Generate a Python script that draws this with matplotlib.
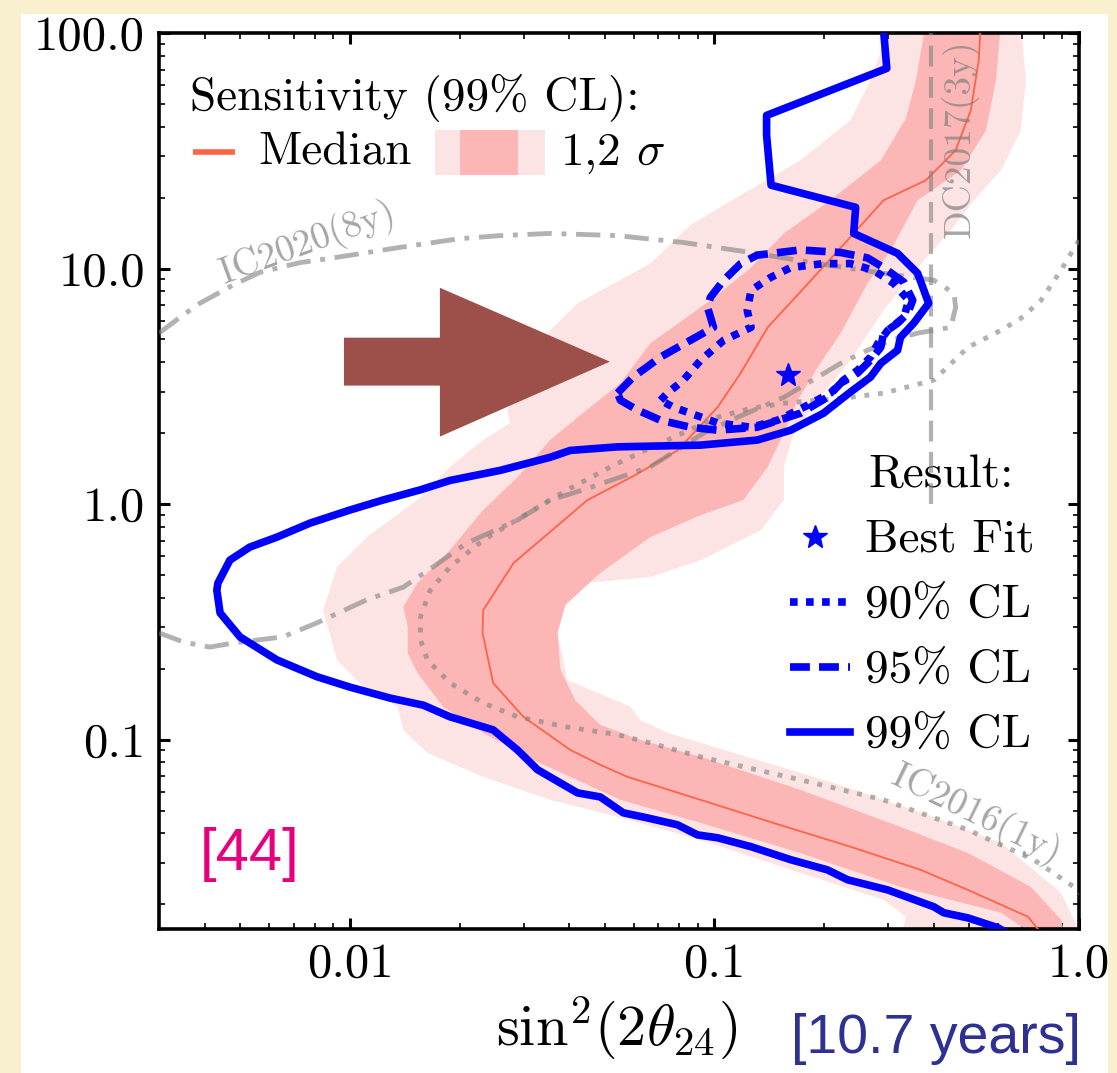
import numpy as np
import matplotlib
matplotlib.use("Agg")
import matplotlib.pyplot as plt
from matplotlib.patches import Polygon, Rectangle
from matplotlib.ticker import FixedLocator, FixedFormatter, LogLocator, NullFormatter

plt.rcParams['font.family'] = 'serif'
plt.rcParams['font.serif'] = ['cmr10']
plt.rcParams['mathtext.fontset'] = 'cm'
plt.rcParams['axes.formatter.use_mathtext'] = True
plt.rcParams['axes.unicode_minus'] = False

# ---- sensitivity bands (outline: left/lower edge downwards, then right/upper edge upwards)
sig2_x = [0.305, 0.268, 0.236, 0.172, 0.118, 0.0859, 0.0667, 0.0421, 0.0354, 0.0270, 0.0275,
          0.0232, 0.0188, 0.0153, 0.0113, 0.00921, 0.00843, 0.00921, 0.0109, 0.0135, 0.0140,
          0.0163, 0.0232, 0.0354, 0.0542, 0.0916, 0.172, 0.291, 0.335, 0.324, 1.02,
          0.969, 0.893, 0.611, 0.400, 0.212, 0.113, 0.0743, 0.0626, 0.0588, 0.0395, 0.0371,
          0.0378, 0.0437, 0.0667, 0.0916, 0.134, 0.155, 0.155, 0.165, 0.192, 0.236, 0.291,
          0.361, 0.445, 0.515, 0.611, 0.693, 0.715, 0.693]
sig2_y = [110, 62.9, 42.6, 28.8, 20.5, 15.3, 10.5, 7.12, 5.47, 2.51, 2.21,
          1.87, 1.44, 1.04, 0.739, 0.541, 0.355, 0.218, 0.167, 0.138, 0.110,
          0.0878, 0.0695, 0.0555, 0.0470, 0.0375, 0.0272, 0.0209, 0.0177, 0.0141, 0.0141,
          0.0172, 0.0224, 0.0364, 0.0470, 0.0655, 0.0878, 0.107, 0.121, 0.138, 0.179, 0.284,
          0.355, 0.462, 0.490, 0.578, 0.776, 1.04, 1.44, 2.00, 2.76, 4.08, 6.65,
          10.1, 14.5, 19.5, 26.1, 38.6, 62.9, 110]

sig1_x = [0.380, 0.357, 0.335, 0.286, 0.208, 0.155, 0.126, 0.0975, 0.0667, 0.0552, 0.0429,
          0.0354, 0.0288, 0.0232, 0.0188, 0.0153, 0.0140, 0.0144, 0.0144, 0.0153, 0.0180,
          0.0232, 0.0318, 0.0437, 0.0552, 0.0916, 0.172, 0.324, 0.611, 0.787, 0.921,
          0.893, 0.738, 0.496, 0.324, 0.172, 0.0916, 0.0626, 0.0486, 0.0415, 0.0378, 0.0371,
          0.0390, 0.0486, 0.0667, 0.0916, 0.120, 0.140, 0.155, 0.169, 0.192, 0.222, 0.263,
          0.305, 0.361, 0.474, 0.556, 0.592, 0.611]
sig1_y = [110, 62.9, 43.4, 28.8, 19.5, 14.1, 10.1, 7.33, 4.82, 3.26, 2.39,
          1.87, 1.30, 0.944, 0.638, 0.462, 0.366, 0.301, 0.233, 0.192, 0.138,
          0.107, 0.0820, 0.0655, 0.0555, 0.0443, 0.0330, 0.0237, 0.0184, 0.0141, 0.0141,
          0.0172, 0.0237, 0.0330, 0.0426, 0.0612, 0.0845, 0.0997, 0.1155, 0.147, 0.198, 0.284,
          0.373, 0.510, 0.724, 0.898, 1.04, 1.44, 2.00, 2.76, 3.81, 5.32, 8.66,
          12.0, 19.5, 26.1, 38.6, 62.9, 110]

med_x = [0.538, 0.531, 0.505, 0.459, 0.380, 0.291, 0.236, 0.184, 0.140, 0.118, 0.102,
         0.0791, 0.0607, 0.0448, 0.0281, 0.0232, 0.0231, 0.0247, 0.0299, 0.0402, 0.0486,
         0.0577, 0.0916, 0.145, 0.236, 0.368, 0.496, 0.725, 0.771, 0.812]
med_y = [110, 76.5, 47.0, 31.8, 23.7, 19.5, 13.6, 8.92, 5.63, 3.60, 2.58,
         1.69, 1.33, 1.04, 0.562, 0.355, 0.284, 0.174, 0.125, 0.0904, 0.0782,
         0.0695, 0.0555, 0.0443, 0.0351, 0.0280, 0.0230, 0.0177, 0.0157, 0.0141]

# ---- previous results
ic2020_x = [0.00299, 0.00348, 0.00387, 0.00477, 0.00566, 0.00729, 0.00898, 0.0137, 0.0200,
            0.0258, 0.0354, 0.0542, 0.0822, 0.126, 0.192, 0.291, 0.400, 0.454, 0.459, 0.445,
            0.361, 0.305, 0.263, 0.222, 0.180, 0.155, 0.116, 0.0933, 0.0667, 0.0437, 0.0354,
            0.0288, 0.0209, 0.0169, 0.0140, 0.0111, 0.00811, 0.00654, 0.00477, 0.00412,
            0.00348, 0.00299]
ic2020_y = [5.32, 6.34, 7.12, 8.50, 9.64, 10.6, 11.1, 12.3, 13.4,
            13.8, 14.1, 13.8, 12.9, 11.7, 10.5, 9.55, 8.92, 7.86, 6.85, 5.63,
            5.32, 4.96, 4.50, 3.96, 3.26, 2.84, 2.34, 2.00, 1.44, 1.15, 1.04,
            0.855, 0.683, 0.541, 0.444, 0.392, 0.313, 0.273, 0.257, 0.247,
            0.260, 0.284]

ic2016_x = [1.0, 0.893, 0.787, 0.693, 0.611, 0.496, 0.400, 0.291, 0.236, 0.155, 0.126,
            0.102, 0.0743, 0.0542, 0.0395, 0.0318, 0.0232, 0.0188, 0.0166, 0.0156, 0.0156,
            0.0163, 0.0188, 0.0232, 0.0288, 0.0395, 0.0542, 0.0667, 0.0916, 0.172, 0.291,
            0.496, 0.752, 0.969, 1.01]
ic2016_y = [13.2, 9.84, 7.33, 6.15, 5.47, 4.63, 3.36, 2.96, 2.84, 2.68, 2.55,
            2.34, 1.87, 1.49, 1.15, 0.944, 0.703, 0.541, 0.431, 0.332, 0.265,
            0.218, 0.174, 0.143, 0.125, 0.113, 0.105, 0.0968, 0.0845, 0.0675, 0.0555,
            0.0414, 0.0309, 0.0237, 0.0222]

dc2017_x = 0.392
dc2017_y = [1.0, 100.0]

# ---- this result
cl99_x = [0.290, 0.297, 0.139, 0.139, 0.143, 0.244, 0.241, 0.318, 0.361, 0.387, 0.352,
          0.324, 0.318, 0.286, 0.268, 0.236, 0.199, 0.162, 0.131, 0.0916, 0.0542, 0.0402,
          0.0354, 0.0258, 0.0188, 0.0156, 0.0123, 0.0100, 0.00776, 0.00630, 0.00531, 0.00468,
          0.00434, 0.00431, 0.00440, 0.00499, 0.00630, 0.00811, 0.0100, 0.0129, 0.0159,
          0.0188, 0.0247, 0.0288, 0.0327, 0.0421, 0.0486, 0.0562, 0.0655, 0.0791, 0.0898,
          0.102, 0.126, 0.162, 0.204, 0.232, 0.299, 0.400, 0.426, 0.496, 0.599, 0.650]
cl99_y = [110, 70.8, 44.7, 36.8, 22.6, 18.2, 14.1, 11.6, 9.55, 7.12, 5.86,
          5.11, 4.50, 3.96, 3.46, 2.99, 2.43, 2.06, 1.87, 1.78, 1.75, 1.69,
          1.58, 1.39, 1.26, 1.15, 1.04, 0.944, 0.830, 0.724, 0.657, 0.578,
          0.462, 0.431, 0.345, 0.273, 0.218, 0.185, 0.167, 0.150, 0.140,
          0.125, 0.110, 0.0904, 0.0745, 0.0594, 0.0571, 0.0489, 0.0465, 0.0435, 0.0394,
          0.0383, 0.0351, 0.0309, 0.0280, 0.0254, 0.0230, 0.0195, 0.0184, 0.0175, 0.0159, 0.0148]

cl95_x = [0.0542, 0.0598, 0.0711, 0.0859, 0.0994, 0.0957, 0.0975, 0.106, 0.118, 0.131, 0.172,
          0.222, 0.263, 0.291, 0.331, 0.350, 0.339, 0.318, 0.291, 0.286, 0.268, 0.247,
          0.222, 0.204, 0.172, 0.131, 0.102, 0.0859, 0.0711, 0.0614, 0.0552, 0.0542]
cl95_y = [2.96, 3.46, 4.21, 4.96, 5.63, 6.85, 7.56, 8.92, 10.5, 11.4, 12.0,
          11.7, 11.1, 10.1, 8.75, 7.33, 6.46, 5.86, 5.32, 4.63, 4.08, 3.60,
          3.26, 2.84, 2.43, 2.12, 2.06, 2.12, 2.27, 2.51, 2.76, 2.96]

cl90_x = [0.0711, 0.0743, 0.0822, 0.0916, 0.106, 0.126, 0.123, 0.126, 0.143, 0.162, 0.199,
          0.236, 0.273, 0.310, 0.341, 0.331, 0.299, 0.281, 0.268, 0.247, 0.226, 0.208,
          0.176, 0.149, 0.126, 0.102, 0.0859, 0.0771, 0.0711]
cl90_y = [2.76, 2.96, 3.36, 4.08, 4.96, 5.63, 6.65, 8.09, 9.19, 10.1, 10.5,
          10.5, 9.84, 8.66, 7.33, 6.21, 5.47, 4.82, 4.21, 3.70, 3.36, 2.96,
          2.58, 2.27, 2.12, 2.21, 2.43, 2.58, 2.76]

best_fit = (0.159, 3.53)

xtick_vals = [0.01, 0.1, 1.0]
xtick_labels = ['0.01', '0.1', '1.0']
ytick_vals = [0.1, 1.0, 10.0, 100.0]
ytick_labels = ['0.1', '1.0', '10.0', '100.0']

BLUE = '#0000ff'
LIGHT = '#fde4e4'
DARK = '#fcb6b6'
MED = 'tomato'

fig = plt.figure(figsize=(11.17, 10.73), dpi=100)
fig.patch.set_facecolor('#f9f0cf')
fig.add_artist(Rectangle((0.0188, 0.0), 0.9731, 0.987, transform=fig.transFigure,
                         facecolor='white', edgecolor='none', zorder=-10))
ax = fig.add_axes([0.1423, 0.1342, 0.8236, 0.8350])
ax.set_xscale('log')
ax.set_yscale('log')

ax.fill(sig2_x, sig2_y, color=LIGHT, lw=0, zorder=1)
ax.fill(sig1_x, sig1_y, color=DARK, lw=0, zorder=2)
ax.plot(med_x, med_y, color=MED, lw=1.3, zorder=3)

ax.plot(ic2020_x, ic2020_y, color='gray', alpha=0.6, lw=3.5, ls=(0, (5, 2, 1, 2)), zorder=4)
ax.plot(ic2016_x, ic2016_y, color='gray', alpha=0.6, lw=3.5, ls=(0, (1, 1.8)), zorder=4)
ax.plot([dc2017_x, dc2017_x], dc2017_y, color='gray', alpha=0.6, lw=3.0, ls=(0, (5, 2.5)), zorder=4)

ax.text(0.00767, 12.8, 'IC2020(8y)', color='gray', alpha=0.7, fontsize=27, rotation=20,
        ha='center', va='center', zorder=4)
ax.text(0.474, 35.7, 'DC2017(3y)', color='gray', alpha=0.7, fontsize=27, rotation=90,
        ha='center', va='center', zorder=4)
ax.text(0.521, 0.048, 'IC2016(1y)', color='gray', alpha=0.7, fontsize=27, rotation=-26,
        ha='center', va='center', zorder=4)

# arrow pointing at the contours
ax.add_patch(Polygon([(0.2011, 0.660), (0.3054, 0.660), (0.3054, 0.7157), (0.4902, 0.6332),
                      (0.3054, 0.5496), (0.3054, 0.6065), (0.2011, 0.6065)],
                     closed=True, transform=ax.transAxes, facecolor='#9d5049',
                     edgecolor='none', zorder=5))

ax.plot(cl99_x, cl99_y, color=BLUE, lw=5.5, zorder=6)
ax.plot(cl95_x, cl95_y, color=BLUE, lw=5.5, ls=(0, (2.6, 1.2)), zorder=6)
ax.plot(cl90_x, cl90_y, color=BLUE, lw=5.5, ls=(0, (1, 1.1)), zorder=6)
ax.plot([best_fit[0]], [best_fit[1]], marker='*', ms=18, color=BLUE, ls='none', zorder=7)

ax.set_xlim(0.00299, 1.0)
ax.set_ylim(0.0157, 100.0)

ax.xaxis.set_major_locator(FixedLocator(xtick_vals))
ax.xaxis.set_major_formatter(FixedFormatter(xtick_labels))
ax.yaxis.set_major_locator(FixedLocator(ytick_vals))
ax.yaxis.set_major_formatter(FixedFormatter(ytick_labels))
for axis in (ax.xaxis, ax.yaxis):
    axis.set_minor_locator(LogLocator(base=10, subs=np.arange(2, 10), numticks=20))
    axis.set_minor_formatter(NullFormatter())
ax.tick_params(which='both', direction='in', top=True, right=True, labelsize=35)
ax.tick_params(which='major', length=8, width=2.2, pad=10)
ax.tick_params(which='minor', length=4, width=1.2)
for s in ax.spines.values():
    s.set_linewidth(2.6)

# sensitivity key
ta = ax.transAxes
ax.text(0.034, 0.914, 'Sensitivity (99% CL):', transform=ta, fontsize=34, va='baseline')
ax.plot([0.037, 0.083], [0.867, 0.867], transform=ta, color=MED, lw=4, solid_capstyle='butt')
ax.text(0.1076, 0.853, 'Median', transform=ta, fontsize=34, va='baseline')
ax.add_patch(Rectangle((0.300, 0.8415), 0.1196, 0.0502, transform=ta, facecolor=LIGHT,
                       edgecolor='none', zorder=6))
ax.add_patch(Rectangle((0.3272, 0.8415), 0.0630, 0.0502, transform=ta, facecolor=DARK,
                       edgecolor='none', zorder=6))
ax.text(0.436, 0.853, r'1,2 $\sigma$', transform=ta, fontsize=34, va='baseline')

# result key
ax.text(0.7707, 0.4933, 'Result:', transform=ta, fontsize=34, va='baseline')
ax.plot([0.713], [0.4375], transform=ta, marker='*', ms=18, color=BLUE, ls='none')
ax.text(0.7674, 0.4208, 'Best Fit', transform=ta, fontsize=34, va='baseline')
key_rows = [(0.365, 0.3482, (0, (1, 1.1)), '90% CL'),
            (0.2924, 0.2757, (0, (2.6, 1.2)), '95% CL'),
            (0.2199, 0.2031, '-', '99% CL')]
for yl, yt, style, lab in key_rows:
    ax.plot([0.686, 0.751], [yl, yl], transform=ta, color=BLUE, lw=5.5, ls=style)
    ax.text(0.7674, yt, lab, transform=ta, fontsize=34, va='baseline')

ax.text(0.044, 0.0658, '[44]', transform=ta, fontsize=43, va='baseline',
        color='#e6007e', family='Liberation Sans')

fig.text(0.552, 0.026, r'$\mathrm{sin}^2(2\theta_{24})$', fontsize=42, ha='center', va='baseline')
fig.text(0.708, 0.0186, '[10.7 years]', fontsize=40, va='baseline', color='#2e3192',
         family='Liberation Sans')

fig.savefig('out.png', dpi=100, facecolor=fig.get_facecolor())
